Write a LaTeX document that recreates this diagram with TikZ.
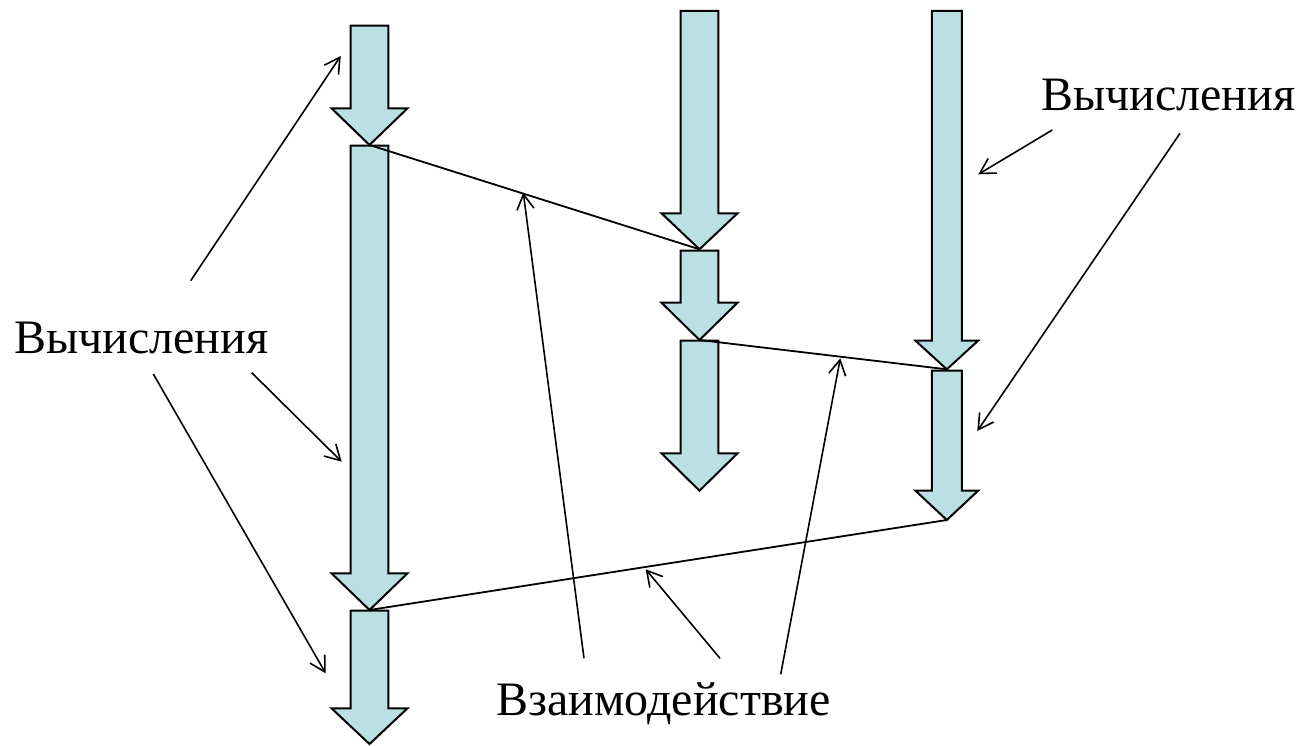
\documentclass[tikz,border=0pt]{standalone}
\usepackage{fontspec}
\setmainfont{Liberation Serif}
\usetikzlibrary{arrows.meta}
\definecolor{flowfill}{RGB}{187,224,227}

\tikzset{
  flow/.style={fill=flowfill, draw=black, line width=2pt, line join=miter},
  link/.style={draw=black, line width=1.8pt},
  pointer/.style={draw=black, line width=1.6pt, -{Straight Barb[length=15pt,width=17pt]}},
  note/.style={font=\fontsize{48}{58}\selectfont, inner sep=0pt}
}

% block arrow: name, x, top, head base, tip, half shaft, half head
\newcommand{\flowarrow}[7]{%
  \draw[flow] (#2-#6,#3) -- (#2+#6,#3) -- (#2+#6,#4) -- (#2+#7,#4) -- (#2,#5) -- (#2-#7,#4) -- (#2-#6,#4) -- cycle;
  \coordinate (#1-top) at (#2,#3);
  \coordinate (#1-tip) at (#2,#5);
}

\begin{document}
\begin{tikzpicture}[x=1pt, y=-1pt]
    \useasboundingbox (0,0) rectangle (1301,746);

    % Потоки вычислений
    \foreach \n/\t/\b/\p in {c1a/25.7/108.3/145, c1b/145.7/573.3/610, c1c/610.7/708.3/744} {
        \flowarrow{\n}{369.5}{\t}{\b}{\p}{18.8}{38}
    }
    \foreach \n/\t/\b/\p in {c2a/11/213.3/249.3, c2b/250.7/302.7/340, c2c/340.7/453.3/490.7} {
        \flowarrow{\n}{699.5}{\t}{\b}{\p}{18.8}{38}
    }
    \foreach \n/\t/\b/\p in {c3a/11/340.7/369.3, c3b/370.7/490.7/520} {
        \flowarrow{\n}{946.8}{\t}{\b}{\p}{15}{31.3}
    }

    % Взаимодействия между потоками
    \draw[link] (c1a-tip) -- (c2a-tip);
    \draw[link] (c2b-tip) -- (c3a-tip);
    \draw[link] (c3b-tip) -- (c1b-tip);

    % Подписи
    \node[note, anchor=base west] (calcleft) at (14,353) {Вычисления};
    \node[note, anchor=base west] (calcright) at (1041,110.7) {Вычисления};
    \node[note, anchor=base east] (interact) at (831,715) {Взаимодействие};

    % Стрелки-указатели
    \foreach \i/\sx/\sy/\tx/\ty in {1/190.7/280.7/340.7/56, 2/251.7/372.7/341.7/461.7,
        3/153.3/374/325.7/673.3, 4/1052.3/130/978.3/174.3, 5/1180/133.3/977.3/431,
        6/584/658.3/523.3/192.7, 7/720/658.3/645.7/569.3, 8/780.7/674.3/840.3/358.3} {
        \coordinate (from\i) at (\sx,\sy);
        \coordinate (to\i) at (\tx,\ty);
        \draw[pointer] (from\i) -- (to\i);
    }
\end{tikzpicture}
\end{document}
